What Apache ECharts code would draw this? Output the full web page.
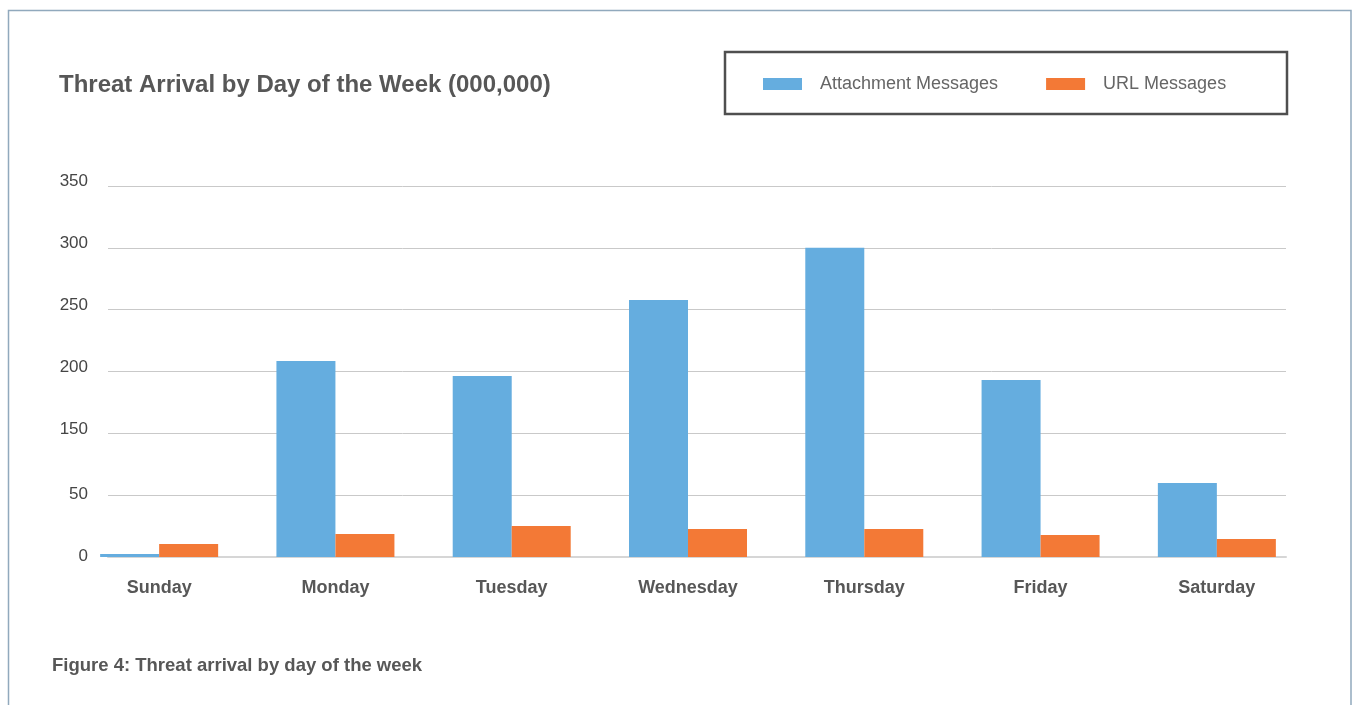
<!DOCTYPE html>
<html>
<head>
<meta charset="utf-8">
<script src="https://cdn.jsdelivr.net/npm/echarts@6/dist/echarts.min.js"></script>
<style>
  html, body { margin: 0; padding: 0; background: #ffffff; }
  #chart { width: 1353px; height: 705px; }
</style>
</head>
<body>
<div id="chart"></div>
<script>
// Days of the week on the category axis
const days = ['Sunday', 'Monday', 'Tuesday', 'Wednesday', 'Thursday', 'Friday', 'Saturday'];

// Threat messages per day (axis units, one gridline step = 50)
const attachmentMessages = [2.4, 158.5, 146.4, 207.8, 250, 143.1, 59.8];
const urlMessages = [10.5, 18.6, 25.1, 22.6, 22.6, 17.8, 14.6];

// Tick labels printed beside the gridlines, bottom to top
const tickLabels = ['0', '50', '150', '200', '250', '300', '350'];

const FONT = "'Liberation Sans', Arial, Helvetica, sans-serif";
const BLUE = '#65addf';
const ORANGE = '#f37936';

const chart = echarts.init(document.getElementById('chart'), null, { renderer: 'canvas' });

chart.setOption({
  backgroundColor: '#ffffff',
  animation: false,
  title: [
    {
      text: 'Threat Arrival by Day of the Week (000,000)',
      left: 59, top: 73, padding: 0,
      textStyle: { fontFamily: FONT, fontSize: 24, fontWeight: 'bold', color: '#575757' }
    },
    {
      text: 'Figure 4: Threat arrival by day of the week',
      left: 52, top: 656, padding: 0,
      textStyle: { fontFamily: FONT, fontSize: 18.5, fontWeight: 'bold', color: '#575757' }
    }
  ],
  legend: {
    left: 763, top: 75, padding: 0,
    icon: 'rect',
    itemWidth: 39, itemHeight: 12,
    itemGap: 48,
    textStyle: { fontFamily: FONT, fontSize: 18, color: '#666666', padding: [0, 0, 0, 13] },
    data: ['Attachment Messages', 'URL Messages']
  },
  graphic: [
    {
      type: 'rect', z: -10, silent: true,
      shape: { x: 8.5, y: 10.5, width: 1342.5, height: 760 },
      style: { fill: null, stroke: '#91a9bd', lineWidth: 1.5 }
    },
    {
      type: 'rect', z: -5, silent: true,
      shape: { x: 725, y: 52, width: 562, height: 62 },
      style: { fill: null, stroke: '#4f4f4f', lineWidth: 2.5 }
    }
  ],
  grid: [
    // bars
    { left: 71, right: 48, top: 186, bottom: 148 },
    // gridlines and value labels
    { left: 108, right: 67, top: 186, bottom: 148 }
  ],
  xAxis: [
    {
      type: 'category', gridIndex: 0, data: days,
      axisLine: { show: false }, axisTick: { show: false },
      axisLabel: { fontFamily: FONT, fontSize: 18, fontWeight: 'bold', color: '#575757', margin: 22 }
    },
    {
      type: 'value', gridIndex: 1, min: 0, max: 1,
      axisLine: { show: true, lineStyle: { color: '#d6d6d6', width: 2 } },
      axisTick: { show: false }, axisLabel: { show: false }, splitLine: { show: false }
    }
  ],
  yAxis: [
    { type: 'value', gridIndex: 0, min: 0, max: 300, interval: 50, show: false },
    {
      type: 'value', gridIndex: 1, min: 0, max: 300, interval: 50,
      axisLine: { show: false }, axisTick: { show: false },
      splitLine: { show: true, lineStyle: { color: '#c9c9c9', width: 1 } },
      axisLabel: {
        margin: 20,
        formatter: (v) => {
          const i = Math.round(v / 50);
          // the two lowest labels sit centred on their lines, the rest just above
          return (i < 2 ? '{c|' : '{t|') + tickLabels[i] + '}';
        },
        rich: {
          t: { fontFamily: FONT, fontSize: 17, color: '#454545', padding: [0, 0, 9, 0] },
          c: { fontFamily: FONT, fontSize: 17, color: '#454545', padding: [0, 0, 1, 0] }
        }
      }
    }
  ],
  series: [
    {
      name: 'Attachment Messages', type: 'bar',
      xAxisIndex: 0, yAxisIndex: 0, z: 5,
      barWidth: 59, barGap: '0%',
      itemStyle: { color: BLUE },
      data: attachmentMessages
    },
    {
      name: 'URL Messages', type: 'bar',
      xAxisIndex: 0, yAxisIndex: 0, z: 5,
      barWidth: 59, barGap: '0%',
      itemStyle: { color: ORANGE },
      data: urlMessages
    }
  ]
});
</script>
</body>
</html>
